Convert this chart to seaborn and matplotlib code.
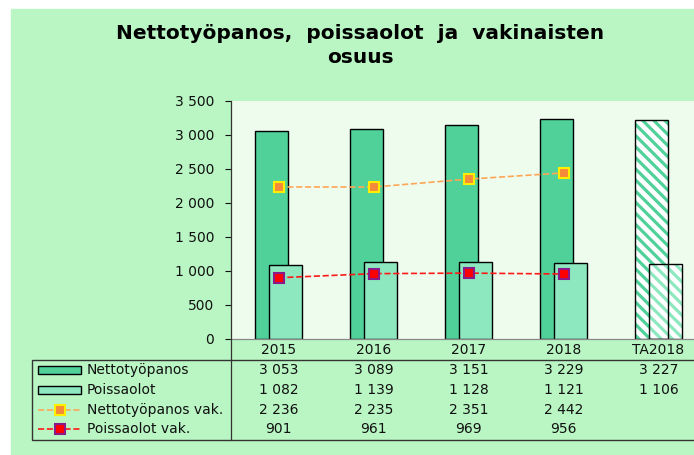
import numpy as np
import seaborn as sns
import matplotlib.pyplot as plt
from matplotlib.patches import Rectangle
from matplotlib.lines import Line2D
from matplotlib import transforms

# data
years = ['2015', '2016', '2017', '2018', 'TA2018']
netto = [3053, 3089, 3151, 3229, 3227]
poissa = [1082, 1139, 1128, 1121, 1106]
netto_vak = [2236, 2235, 2351, 2442]
poissa_vak = [901, 961, 969, 956]

row_names = ['Nettotyöpanos', 'Poissaolot', 'Nettotyöpanos vak.', 'Poissaolot vak.']

c_netto = '#4fd199'
c_poissa = '#8de8bf'
c_bg = '#b9f6c3'
c_plot = '#eefcee'
c_text = '#111111'

sns.set_theme(style='white')
plt.rcParams['font.family'] = ['DejaVu Sans']
plt.rcParams['hatch.linewidth'] = 2.3

W, H = 694, 455
fig = plt.figure(figsize=(W / 100, H / 100), dpi=100)
fig.patch.set_facecolor('white')


def px(x, y):
    # pixel position (from top left) -> figure fraction
    return x / W, 1 - y / H


fig.add_artist(Rectangle(px(11, H), 1, (H - 9) / H, transform=fig.transFigure,
                         color=c_bg, zorder=-10))

ax = fig.add_axes([231 / W, (H - 339) / H, 475 / W, 238 / H])
ax.set_facecolor(c_plot)

pos = np.arange(len(years))
sns.barplot(x=pos - 0.07, y=netto, native_scale=True, width=0.35, color=c_netto,
            saturation=1, edgecolor='black', linewidth=1.0, ax=ax)
sns.barplot(x=pos + 0.07, y=poissa, native_scale=True, width=0.35, color=c_poissa,
            saturation=1, edgecolor='black', linewidth=1.0, ax=ax)

# forecast bars (TA2018) are hatched
n = len(years)
for i, col in [(n - 1, c_netto), (2 * n - 1, c_poissa)]:
    p = ax.patches[i]
    p.set_facecolor('white')
    p.set_edgecolor(col)
    p.set_linewidth(0)
    p.set_hatch('\\\\\\')
    ax.add_patch(Rectangle((p.get_x(), p.get_y()), p.get_width(), p.get_height(),
                           fill=False, edgecolor='black', linewidth=1.0, zorder=p.get_zorder()))

sns.lineplot(x=pos[:4], y=netto_vak, color='#ffa656', linestyle='--', linewidth=1.2,
             marker='s', markersize=7, markerfacecolor='#f58a3a', markeredgecolor='#ffee00',
             markeredgewidth=1.5, ax=ax)
sns.lineplot(x=pos[:4], y=poissa_vak, color='#ff1a1a', linestyle='--', linewidth=1.2,
             marker='s', markersize=7, markerfacecolor='#ff0000', markeredgecolor='#8a1a8a',
             markeredgewidth=1.5, ax=ax)

ax.set_xlim(-0.5, 4.5)
ax.set_ylim(0, 3500)
ax.set_yticks(range(0, 3501, 500))
ax.set_yticklabels([f'{v:,}'.replace(',', ' ') for v in range(0, 3501, 500)])
ax.set_xticks(pos)
ax.set_xticklabels(years)
ax.tick_params(axis='y', direction='out', length=4, width=0.8, pad=8, labelsize=10,
               colors=c_text, left=True)
ax.tick_params(axis='x', length=0, pad=3, labelsize=10, colors=c_text)
ax.set_xlabel('')
ax.set_ylabel('')
for s in ['top', 'right']:
    ax.spines[s].set_visible(False)
ax.spines['left'].set_color('#333333')
ax.spines['left'].set_linewidth(0.9)
ax.spines['bottom'].set_color('#888888')
ax.spines['bottom'].set_linewidth(0.9)

# title
fig.text(360 / W, px(0, 45.5)[1], 'Nettotyöpanos,  poissaolot  ja  vakinaisten\nosuus',
         ha='center', va='center', fontsize=14.5, fontweight='bold', linespacing=1.35,
         color='black')

# data table below the axis
table_box = Rectangle(px(32, 440), 1, (440 - 360) / H, transform=fig.transFigure,
                      fill=False, edgecolor='#333333', linewidth=1.0, zorder=5)
fig.add_artist(table_box)
fig.add_artist(Line2D([231 / W, 231 / W], [px(0, 339)[1], px(0, 440)[1]],
                      transform=fig.transFigure, color='#333333', linewidth=0.9))

trans = transforms.blended_transform_factory(ax.transData, fig.transFigure)
row_y = [370, 390, 410, 429]
rows = [netto, poissa, netto_vak, poissa_vak]
for vals, yy in zip(rows, row_y):
    for i, v in enumerate(vals):
        fig.text(i, px(0, yy)[1], f'{v:,}'.replace(',', ' '), transform=trans,
                 ha='center', va='center', fontsize=10, color=c_text)

for name, yy in zip(row_names, row_y):
    fig.text(87 / W, px(0, yy)[1], name, ha='left', va='center', fontsize=10,
             color=c_text)

# legend keys inside the table
for col, yy in [(c_netto, row_y[0]), (c_poissa, row_y[1])]:
    x0, y0 = px(38, yy + 4)
    fig.add_artist(Rectangle((x0, y0), 43 / W, 8 / H, transform=fig.transFigure,
                             facecolor=col, edgecolor='black', linewidth=1.0))
for lc, fc, ec, yy in [('#ffa656', '#f58a3a', '#ffee00', row_y[2]),
                       ('#ff1a1a', '#ff0000', '#8a1a8a', row_y[3])]:
    y = px(0, yy)[1]
    fig.add_artist(Line2D([38 / W, 81 / W], [y, y], transform=fig.transFigure,
                          color=lc, linestyle='--', linewidth=1.2))
    fig.add_artist(Line2D([60 / W], [y], transform=fig.transFigure, marker='s',
                          markersize=7, markerfacecolor=fc, markeredgecolor=ec,
                          markeredgewidth=1.5, linestyle='none'))

fig.savefig('out.png', dpi=100)
